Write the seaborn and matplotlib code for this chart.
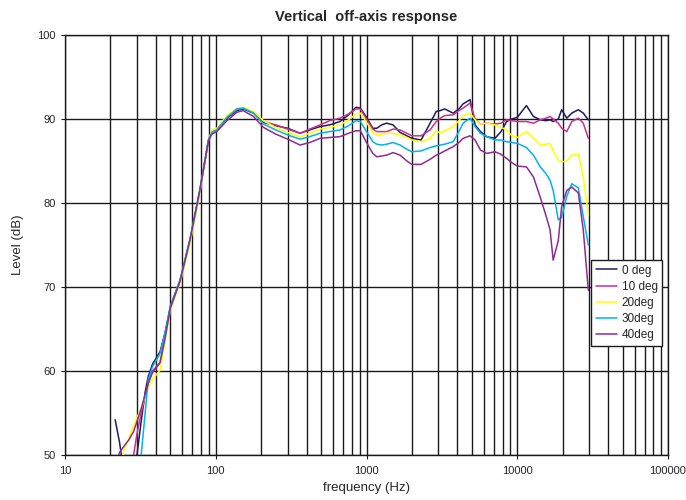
import numpy as np
import pandas as pd
import seaborn as sns
import matplotlib
matplotlib.use('Agg')
import matplotlib.pyplot as plt
from matplotlib.ticker import LogLocator, NullFormatter

# Frequency points (Hz)
freq = [21.5, 23, 24.5, 26.5, 28.5, 30, 32, 34, 35.6, 38, 42.7, 46,
        50, 58, 67.5, 78.4, 89.4, 94, 101.5, 118.5, 138, 152, 178, 207,
        250, 300, 362, 420, 492, 570, 667, 760, 850, 910, 1000, 1100,
        1170, 1260, 1360, 1500, 1670, 1850, 2000, 2300, 2640, 2900, 3080, 3300,
        3750, 4100, 4370, 4860, 5250, 5700, 6270, 7110, 7800, 8500, 9200, 10000,
        11500, 12800, 14200, 15500, 16500, 17300, 18700, 19700, 21300, 23000, 25400, 27400, 29600]

nan = np.nan
deg0 = [54.2, 51.5, 48.0, 44.0, 45.0, 50.0, 54.0, 57.5, 59.3, 60.8, 62.3, 64.5,
        67.7, 70.8, 75.6, 81.5, 87.5, 88.5, 88.7, 90.1, 91.0, 91.2, 90.7, 89.6,
        89.2, 88.9, 88.3, 88.7, 89.1, 89.3, 89.7, 90.5, 91.4, 91.3, 90.2, 88.9,
        88.9, 89.3, 89.5, 89.3, 88.4, 88.0, 87.7, 87.5, 89.5, 90.9, 91.0, 91.2,
        90.7, 91.2, 91.8, 92.3, 89.3, 88.5, 87.9, 87.7, 88.5, 89.7, 90.0, 90.2,
        91.6, 90.3, 89.9, 89.8, 89.9, 89.7, 90.0, 91.1, 90.1, 90.7, 91.1, 90.7, 89.9]
deg10 = [nan, nan, 40.0, 44.0, 50.0, 52.5, 55.0, 57.0, 58.5, 60.0, 61.0, 64.0,
         67.5, 70.7, 75.5, 81.4, 87.4, 88.4, 88.7, 90.2, 91.1, 91.3, 90.8, 89.7,
         89.3, 88.8, 88.3, 88.8, 89.3, 89.8, 90.1, 90.6, 91.2, 91.2, 90.0, 88.8,
         88.5, 88.5, 88.5, 88.8, 88.7, 88.3, 88.0, 88.0, 88.7, 89.7, 90.1, 90.4,
         90.5, 91.0, 91.3, 91.9, 90.0, 89.4, 89.5, 89.4, 89.5, 89.9, 89.8, 89.7,
         89.7, 89.5, 89.9, 90.1, 90.3, 90.0, 89.5, 88.9, 88.5, 89.7, 90.1, 89.5, 87.7]
deg20 = [nan, 48.0, 50.5, 52.0, 53.5, 54.5, 55.5, 57.0, 58.0, 59.0, 60.1, 63.5,
         67.3, 70.5, 75.2, 81.2, 87.5, 88.6, 88.9, 90.4, 91.3, 91.4, 90.9, 89.8,
         89.0, 88.4, 87.9, 88.3, 88.8, 89.0, 89.3, 89.9, 90.6, 90.7, 89.6, 88.4,
         88.1, 88.2, 88.3, 88.3, 88.1, 87.8, 87.5, 87.3, 87.7, 88.6, 88.3, 88.6,
         89.1, 89.8, 90.4, 90.7, 89.9, 89.4, 89.5, 89.3, 89.0, 88.7, 88.0, 87.8,
         88.5, 87.7, 86.9, 87.0, 87.1, 86.2, 85.1, 84.9, 85.0, 85.7, 85.8, 83.1, 78.6]
deg30 = [nan, nan, nan, nan, 40.0, 45.0, 50.0, 55.0, 58.9, 60.5, 62.1, 64.5,
         67.7, 70.9, 75.8, 81.6, 87.5, 88.4, 88.7, 90.2, 91.2, 91.3, 90.7, 89.4,
         88.7, 88.1, 87.6, 87.9, 88.3, 88.5, 88.7, 89.2, 89.8, 89.7, 88.5, 87.3,
         87.0, 86.9, 87.0, 87.2, 86.9, 86.4, 86.1, 86.2, 86.6, 86.8, 86.9, 87.0,
         87.3, 88.5, 89.5, 90.1, 89.1, 88.3, 87.9, 87.5, 87.5, 87.3, 87.2, 87.1,
         86.6, 85.7, 84.3, 83.5, 82.7, 81.5, 78.0, 78.3, 80.8, 82.3, 81.8, 78.4, 75.0]
deg40 = [48.5, 50.3, 51.0, 51.8, 52.8, 54.0, 55.5, 57.2, 58.5, 59.8, 61.0, 63.8,
         67.5, 70.7, 75.6, 81.5, 87.4, 88.2, 88.5, 89.8, 90.8, 91.0, 90.3, 89.0,
         88.2, 87.6, 86.9, 87.2, 87.7, 87.8, 87.9, 88.3, 88.6, 88.6, 87.2, 85.9,
         85.5, 85.6, 85.7, 86.0, 85.7, 85.0, 84.6, 84.6, 85.2, 85.7, 85.9, 86.2,
         86.7, 87.2, 87.7, 88.0, 87.5, 86.3, 85.9, 86.1, 85.8, 85.3, 84.8, 84.4,
         84.3, 83.1, 80.7, 78.5, 76.8, 73.2, 75.5, 79.6, 81.5, 81.9, 81.2, 76.8, 69.6]

labels = ['0 deg', '10 deg', '20deg', '30deg', '40deg']
colors = ['#1c1c66', '#cc2f93', '#ffff00', '#00b2ee', '#8e2b93']

df = pd.DataFrame({'freq': freq, '0 deg': deg0, '10 deg': deg10,
                   '20deg': deg20, '30deg': deg30, '40deg': deg40})
df = df.melt(id_vars='freq', var_name='angle', value_name='level').dropna()

sns.set_style('white')
plt.rcParams['font.family'] = ['Liberation Sans', 'DejaVu Sans']

fig = plt.figure(figsize=(6.86, 5.0), dpi=100)
ax = fig.add_axes([0.0948, 0.09, 0.879, 0.84])

sns.lineplot(data=df, x='freq', y='level', hue='angle', hue_order=labels,
             palette=colors, estimator=None, errorbar=None, sort=False,
             linewidth=1.1, ax=ax, zorder=3)

ax.set_xscale('log')
ax.set_xlim(10, 100000)
ax.set_ylim(50, 100)
ax.set_xticks([10, 100, 1000, 10000, 100000])
ax.set_xticklabels(['10', '100', '1000', '10000', '100000'])
ax.xaxis.set_minor_locator(LogLocator(base=10, subs=np.arange(2, 10)))
ax.xaxis.set_minor_formatter(NullFormatter())
ax.set_yticks([50, 60, 70, 80, 90, 100])

ax.grid(which='both', axis='x', color='#1a1a1a', linewidth=1.0)
ax.grid(which='major', axis='y', color='#1a1a1a', linewidth=1.0)
ax.set_axisbelow(True)
for s in ax.spines.values():
    s.set_color('#1a1a1a')
    s.set_linewidth(1.0)

ax.tick_params(axis='both', which='major', labelsize=8, length=3,
               direction='out', color='#1a1a1a', bottom=True, left=True)
ax.tick_params(axis='x', which='minor', length=0)
ax.tick_params(axis='x', pad=5)

ax.set_xlabel('frequency (Hz)', fontsize=9.5, labelpad=4)
ax.set_ylabel('Level (dB)', fontsize=9.5, labelpad=10)
ax.set_title('Vertical  off-axis response', fontsize=10.5, fontweight='bold', pad=10)

leg = ax.legend(loc='lower left', bbox_to_anchor=(0.872, 0.26), fontsize=8.5,
                frameon=True, fancybox=False, borderaxespad=0, handlelength=1.8,
                labelspacing=0.35, borderpad=0.4, handletextpad=0.4)
leg.get_frame().set_edgecolor('#1a1a1a')
leg.get_frame().set_linewidth(1.0)
leg.get_frame().set_alpha(1.0)

fig.savefig('out.png', dpi=100)
